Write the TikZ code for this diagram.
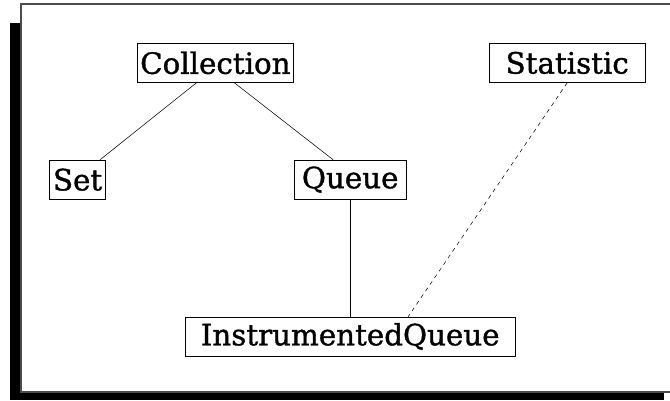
\documentclass[tikz,border=0pt]{standalone}
\usepackage{fontspec}
\setmainfont{DejaVu Serif}[BoldFont={DejaVu Serif}, BoldFeatures={FakeBold=1.2}]
\usepackage{tikz}
\usetikzlibrary{positioning}
\begin{document}
\begin{tikzpicture}[node distance=57.75pt]
\tikzstyle{classbox} = [rectangle, draw = black, line width=0.6pt, minimum height=29.25pt, inner sep=0pt, font=\fontsize{22}{26}\selectfont\bfseries]
\tikzstyle{frameline} = [draw = black!70, line width=1pt, fill=white]
\useasboundingbox (0,0) rectangle (502.5pt,-300pt);
\fill [black] (7.5pt,-17.25pt) rectangle (498pt,-300pt);
\draw [frameline] (15.75pt,-3pt) rectangle (530pt,-294pt);
\node (collection) [classbox, minimum width=117pt, anchor=north west] at (102.75pt,-32.25pt) {Collection};
\node (set) [classbox, minimum width=42pt, below left = 57.75pt and 23.25pt of collection] {Set};
\node (queue) [classbox, minimum width=84pt, below right = 57.75pt and 0pt of collection] {Queue};
\node (statistic) [classbox, minimum width=117pt, right = 146.25pt of collection] {Statistic};
\node (instrumented) [classbox, minimum width=247.5pt, below = 87.75pt of queue] {InstrumentedQueue};
\draw ([xshift=-14.25pt]collection.south) -- ([xshift=-4.5pt]set.north east);
\draw ([xshift=14.25pt]collection.south) -- ([xshift=-12.75pt]queue.north);
\draw (queue) -- (instrumented);
\draw [dashed] (statistic.south) -- ([xshift=43.5pt]instrumented.north);
\end{tikzpicture}
\end{document}
